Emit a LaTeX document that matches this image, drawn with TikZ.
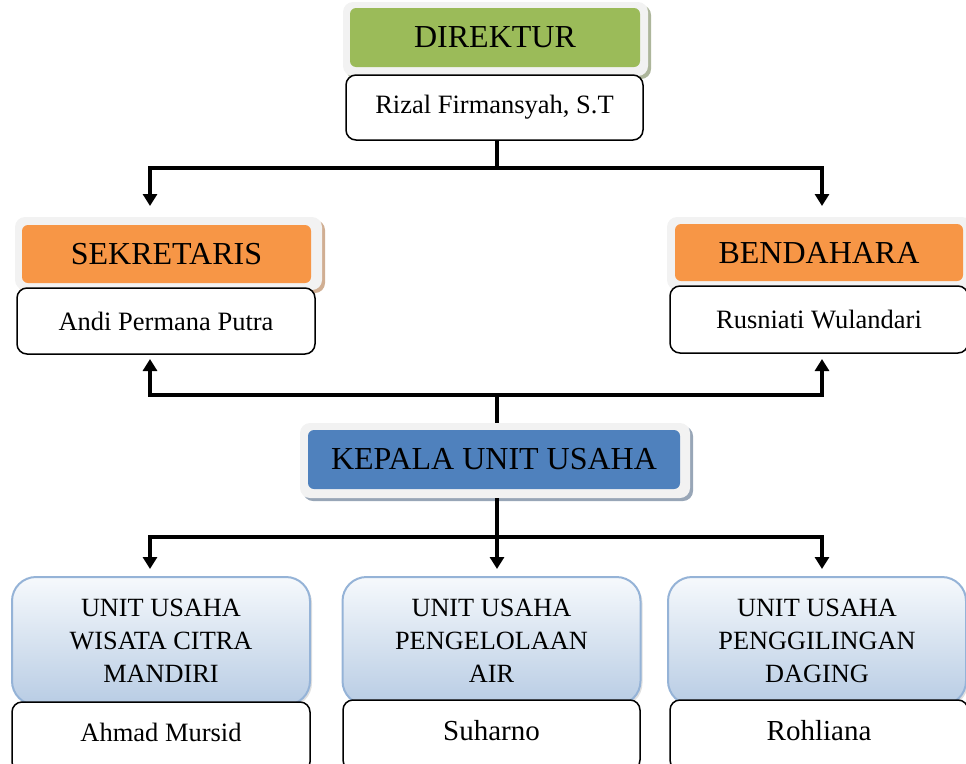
\documentclass[tikz,border=0pt]{standalone}
\usepackage{fontspec}
\setmainfont{Liberation Serif}
\usetikzlibrary{arrows.meta,shadows}
\definecolor{dgreen}{HTML}{9BBB59}
\definecolor{dorange}{HTML}{F79646}
\definecolor{dblue}{HTML}{4F81BD}
\definecolor{framegray}{HTML}{F2F2F2}
\definecolor{unitborder}{HTML}{95B3D7}
\definecolor{unittop}{HTML}{F6F9FC}
\definecolor{unitbot}{HTML}{B8CCE4}
\begin{document}
\begin{tikzpicture}[x=1pt,y=-1pt,
  frame/.style={draw=none, fill=framegray, rounded corners=10pt, inner sep=0pt},
  head/.style={draw=none, rounded corners=6pt, inner sep=0pt, font=\fontsize{32}{38}\selectfont},
  namebox/.style={draw=black, line width=1.5pt, fill=white, rounded corners=10pt, inner sep=0pt, font=\fontsize{26.5}{32}\selectfont},
  unitbox/.style={draw=unitborder, line width=2pt, top color=unittop, bottom color=unitbot, rounded corners=24pt, inner sep=0pt, align=center, font=\fontsize{26.3}{33}\selectfont, minimum width=298pt, minimum height=128pt},
  conn/.style={line width=4pt, line join=miter},
  arr/.style={conn, -{Triangle[width=14pt,length=12pt]}}
]
\useasboundingbox (0,0) rectangle (966,763);

% DIREKTUR
\node[frame, minimum width=305pt, minimum height=74pt,
  drop shadow={shadow xshift=3pt, shadow yshift=-3pt, fill=dgreen!40!gray!70, opacity=1}] (dirframe) at (495.5,39) {};
\node[head, fill=dgreen, minimum width=290pt, minimum height=59pt] (dir) at (495,37.5) {DIREKTUR};
\node[namebox, minimum width=297pt, minimum height=65pt] (dirname) at (494.5,107.5) {Rizal Firmansyah, S.T};

% SEKRETARIS
\node[frame, minimum width=307pt, minimum height=73pt,
  drop shadow={shadow xshift=3pt, shadow yshift=-3pt, fill=dorange!50!gray!70, opacity=1}] (sekframe) at (168.5,253.5) {};
\node[head, fill=dorange, minimum width=289pt, minimum height=58pt] (sek) at (166.5,254) {SEKRETARIS};
\node[namebox, minimum width=298pt, minimum height=66pt] (sekname) at (166,321) {Andi Permana Putra};

% BENDAHARA
\node[frame, minimum width=305pt, minimum height=73pt,
  drop shadow={shadow xshift=3pt, shadow yshift=-3pt, fill=dorange!50!gray!70, opacity=1}] (benframe) at (819.5,253.5) {};
\node[head, fill=dorange, minimum width=288pt, minimum height=57pt] (ben) at (819,252.5) {BENDAHARA};
\node[namebox, minimum width=298pt, minimum height=67pt] (benname) at (819,319.5) {Rusniati Wulandari};

% KEPALA
\node[frame, minimum width=390pt, minimum height=75pt,
  drop shadow={shadow xshift=3pt, shadow yshift=-3pt, fill=dblue!40!gray!70, opacity=1}] (kepframe) at (495,460.5) {};
\node[head, fill=dblue, minimum width=372pt, minimum height=59pt] (kep) at (494,459.5) {KEPALA UNIT USAHA};

% UNITS
\node[unitbox, drop shadow={shadow xshift=2pt, shadow yshift=-2pt, fill=gray!40, opacity=0.6}] (u1) at (161,641) {UNIT USAHA\\WISATA CITRA\\MANDIRI};
\node[unitbox, drop shadow={shadow xshift=2pt, shadow yshift=-2pt, fill=gray!40, opacity=0.6}] (u2) at (491.5,641) {UNIT USAHA\\PENGELOLAAN\\AIR};
\node[unitbox, drop shadow={shadow xshift=2pt, shadow yshift=-2pt, fill=gray!40, opacity=0.6}] (u3) at (817,641) {UNIT USAHA\\PENGGILINGAN\\DAGING};

\node[namebox, minimum width=298pt, minimum height=70pt, text height=18pt, text depth=10pt] (u1name) at (161,737) {Ahmad Mursid};
\node[namebox, minimum width=297pt, minimum height=70pt, text height=20pt, text depth=10pt, font=\fontsize{29}{34}\selectfont] (u2name) at (491.5,735) {Suharno};
\node[namebox, minimum width=298pt, minimum height=70pt, text height=20pt, text depth=10pt, font=\fontsize{29}{34}\selectfont] (u3name) at (819,735) {Rohliana};

% connectors
\coordinate (ja) at (497,168);
\coordinate (sekdown) at (150,206);
\coordinate (bendown) at (822,206);
\draw[conn] (dirname.south -| ja) -- (ja);
\draw[arr] (ja) -| (sekdown);
\draw[arr] (ja) -| (bendown);

\coordinate (jb) at (497,395);
\coordinate (sekup) at (150,359);
\coordinate (benup) at (822,359);
\draw[conn] (kepframe.north -| jb) -- (jb);
\draw[arr] (jb) -| (sekup);
\draw[arr] (jb) -| (benup);

\coordinate (jc) at (497,537);
\coordinate (u1tip) at (150,569);
\coordinate (u2tip) at (497,569);
\coordinate (u3tip) at (822,569);
\draw[conn] (kepframe.south -| jc) -- (jc);
\draw[arr] (jc) -| (u1tip);
\draw[arr] (jc) -- (u2tip);
\draw[arr] (jc) -| (u3tip);
\end{tikzpicture}
\end{document}
